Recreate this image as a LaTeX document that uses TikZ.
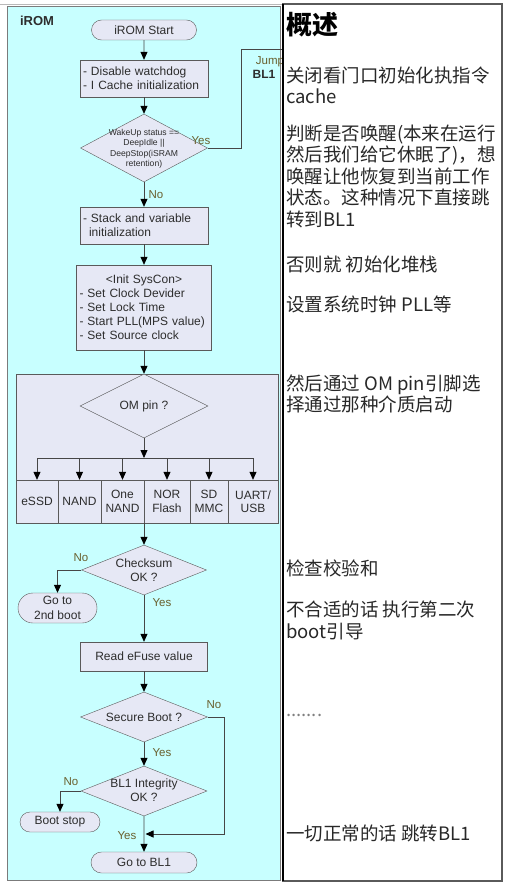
\documentclass[tikz,border=0pt]{standalone}
\usepackage{fontspec}
\setmainfont{Liberation Sans}
\newfontfamily\cjkfont{Noto Sans CJK SC}
\usepackage{tikz}
\usetikzlibrary{arrows.meta,shapes.geometric,shapes.misc}
\definecolor{romcyan}{RGB}{200,255,255}
\definecolor{romfill}{RGB}{230,232,245}
\definecolor{romline}{RGB}{90,90,90}
\definecolor{romwire}{RGB}{70,70,70}
\definecolor{romlbl}{RGB}{105,95,45}
\definecolor{romtext}{RGB}{45,45,45}
\definecolor{notetext}{RGB}{40,40,40}

\begin{document}
\begin{tikzpicture}[x=1pt, y=-1pt,
    proc/.style={draw=romline, fill=romfill, text=romtext,
                 font=\fontsize{12}{14}\selectfont, align=left,
                 inner xsep=3pt, inner ysep=0pt},
    term/.style={rounded rectangle, draw=romline, fill=romfill, text=romtext,
                 font=\fontsize{12}{14.5}\selectfont, align=center, inner sep=0pt},
    dec/.style={diamond, draw=romline, fill=romfill, inner sep=0pt},
    dectxt/.style={text=romtext, align=center, inner sep=0pt,
                   font=\fontsize{12}{14}\selectfont},
    media/.style={draw=romline, fill=romfill, text=romtext, align=center,
                  inner sep=0pt, minimum height=43pt,
                  font=\fontsize{12}{13.5}\selectfont},
    yn/.style={text=romlbl, inner sep=0pt, font=\fontsize{11.5}{13}\selectfont},
    arr/.style={draw=romwire, line width=0.8pt,
                -{Triangle[length=8pt,width=7pt,color=black]}},
    wire/.style={draw=romwire, line width=0.8pt},
    note/.style={anchor=base west, align=left, inner sep=0pt, text=notetext,
                 font=\cjkfont\fontsize{18.5}{21.6}\selectfont}
  ]
  \fill[white] (0,0) rectangle (508,891);
  \useasboundingbox (0,0) rectangle (508,891);
  \draw[gray!55] (0,4) -- (282,4);
  \draw[draw=romline!80, fill=romcyan] (7,6) rectangle (280,880);
  \node[font=\bfseries\fontsize{13}{15}\selectfont, text=romtext, inner sep=0pt] (irom) at (37,21) {iROM};

  \node[term, minimum width=105pt, minimum height=20pt] (start) at (144,30) {iROM Start};
  \node[proc, text width=122pt, minimum height=37pt] (dis) at (144,78.5) {- Disable watchdog\\- I Cache initialization};
  \node[dec, minimum width=127pt, minimum height=68pt] (wake) at (144,148) {};
  \node[dectxt, font=\fontsize{8.6}{10.5}\selectfont] (waketxt) at (144,149) {WakeUp status ==\\DeepIdle ||\\DeepStop(iSRAM\\retention)};
  \node[proc, text width=122pt, minimum height=37pt] (stack) at (144,225.5) {- Stack and variable\\\hspace*{6pt}initialization};
  \node[proc, text width=129pt, minimum height=85pt] (syscon) at (144,307.5) {\makebox[129pt]{<Init SysCon>}\\- Set Clock Devider\\- Set Lock Time\\- Start PLL(MPS value)\\- Set Source clock};

  \node[draw=romline, fill=romfill, minimum width=262pt, minimum height=149pt, inner sep=0pt] (omgrp) at (147,448.5) {};
  \node[dec, minimum width=128pt, minimum height=64pt] (ompin) at (144,406) {};
  \node[dectxt] (ompintxt) at (ompin) {OM pin ?};
  \node[media, minimum width=42pt] (essd) at (37,501.5) {eSSD};
  \node[media, minimum width=43pt] (nand) at (79.5,501.5) {NAND};
  \node[media, minimum width=43pt] (onenand) at (122.5,501.5) {One\\NAND};
  \node[media, minimum width=46pt] (nor) at (167,501.5) {NOR\\Flash};
  \node[media, minimum width=38pt] (sd) at (209,501.5) {SD\\MMC};
  \node[media, minimum width=50pt] (uart) at (253,501.5) {UART/\\USB};
  \coordinate (bus) at (144,458);

  \node[dec, minimum width=125pt, minimum height=50pt] (cks) at (144,570) {};
  \node[dectxt] (ckstxt) at (cks) {Checksum\\OK ?};
  \node[term, minimum width=79pt, minimum height=30pt] (boot2) at (57.5,608) {Go to\\2nd boot};
  \node[proc, minimum width=127pt, minimum height=29pt, align=center] (efuse) at (144,656.5) {Read eFuse value};
  \node[dec, minimum width=127pt, minimum height=50pt] (sec) at (144,717) {};
  \node[dectxt] (sectxt) at (sec) {Secure Boot ?};
  \node[dec, minimum width=126pt, minimum height=50pt] (integ) at (144,791) {};
  \node[dectxt] (integtxt) at (144,790) {BL1 Integrity\\OK ?};
  \node[term, minimum width=80pt, minimum height=20pt] (stop) at (60,822) {Boot stop};
  \node[term, minimum width=106pt, minimum height=21pt] (bl1) at (144,862.5) {Go to BL1};

  \draw[arr] (start) -- (dis);
  \draw[arr] (dis) -- (wake);
  \draw[arr] (wake) -- (stack);
  \draw[arr] (stack) -- (syscon);
  \draw[arr] (syscon) -- (ompin);
  \draw[arr] (ompin.south) -- (bus);
  \draw[wire] (essd.north |- bus) -- (uart.north |- bus);
  \foreach \m in {essd,nand,onenand,nor,sd,uart}
    \draw[arr] (\m.north |- bus) -- (\m.north);
  \draw[arr] (cks.north |- omgrp.south) -- (cks);
  \draw[arr] (cks.west) -| (boot2.north);
  \draw[arr] (cks) -- (efuse);
  \draw[arr] (efuse) -- (sec);
  \draw[arr] (sec) -- (integ);
  \draw[arr] (integ.west) -| (stop.north);
  \draw[arr] (integ) -- (bl1);
  \coordinate (skip) at (224,834);
  \draw[arr] (sec.east) -| (skip) -- ([xshift=1.5pt]integ.south |- skip);
  \coordinate (jumpup) at (241,49);
  \coordinate (jumpout) at (283,49);
  \draw[wire] (wake.east) -| (jumpup) -- (jumpout);

  \node[yn] (wakeyes) at (201,141) {Yes};
  \node[yn] (wakeno) at (156,195) {No};
  \node[yn] (jumplbl) at (270,62) {Jump};
  \node[font=\bfseries\fontsize{12}{14}\selectfont, text=romtext, inner sep=0pt] (jumpbl1) at (264,74) {BL1};
  \node[yn] (cksno) at (81,558) {No};
  \node[yn] (cksyes) at (162,603) {Yes};
  \node[yn] (secno) at (214,705) {No};
  \node[yn] (secyes) at (162,753) {Yes};
  \node[yn] (integno) at (71,782) {No};
  \node[yn] (integyes) at (127,836) {Yes};

  \draw[draw=romline, line width=1.2pt] (283,4) rectangle (502,881);
  \draw[black, line width=2pt] (283,4) -- (283,881);
  \node[note, font=\cjkfont\bfseries\fontsize{26}{30}\selectfont, text=black] (title) at (286,35) {概述};
  \node[note] (n1) at (286,103.6) {关闭看门口初始化执指令\\cache};
  \node[note] (n2) at (286,226.4) {判断是否唤醒(本来在运行\\然后我们给它休眠了)，想\\唤醒让他恢复到当前工作\\状态。这种情况下直接跳\\转到BL1};
  \node[note] (n3) at (286,271) {否则就 初始化堆栈};
  \node[note] (n4) at (286,311) {设置系统时钟 PLL等};
  \node[note] (n5) at (286,411.6) {然后通过 OM pin引脚选\\择通过那种介质启动};
  \node[note] (n6) at (286,575) {检查校验和};
  \node[note] (n7) at (286,638) {不合适的话 执行第二次\\boot引导};
  \node[note, text=gray] (n8) at (286,716) {.......};
  \node[note] (n9) at (286,840) {一切正常的话 跳转BL1};
\end{tikzpicture}
\end{document}
